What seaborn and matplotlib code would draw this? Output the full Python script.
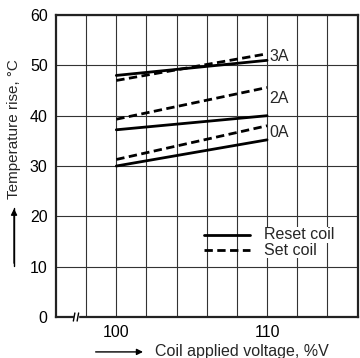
import pandas as pd
import matplotlib.pyplot as plt
import seaborn as sns

# coil temperature rise vs applied voltage
voltage = [100, 110]
currents = ["0A", "2A", "3A"]
reset_rise = {"0A": [30.0, 35.2], "2A": [37.2, 40.0], "3A": [48.0, 51.0]}
set_rise = {"0A": [31.3, 38.0], "2A": [39.3, 45.6], "3A": [47.0, 52.3]}
label_y = {"0A": 36.6, "2A": 43.4, "3A": 51.8}

rows = []
for cur in currents:
    for v, r, s in zip(voltage, reset_rise[cur], set_rise[cur]):
        rows.append({"voltage": v, "rise": r, "current": cur, "coil": "Reset coil"})
        rows.append({"voltage": v, "rise": s, "current": cur, "coil": "Set coil"})
df = pd.DataFrame(rows)

sns.set_theme(style="white")
plt.rcParams["font.family"] = ["Liberation Sans", "DejaVu Sans"]

fig = plt.figure(figsize=(3.6, 3.58), dpi=100)
ax = fig.add_axes([0.1556, 0.1145, 0.8375, 0.8435])

sns.lineplot(data=df, x="voltage", y="rise", hue="current", style="coil",
             units="current", estimator=None,
             palette=["black"] * 3, dashes={"Reset coil": "", "Set coil": (3, 1.6)},
             linewidth=2.0, legend=False, ax=ax, zorder=3)

ax.set_xlim(96, 116)
ax.set_ylim(0, 60)
ax.set_xticks(range(98, 116, 2), minor=True)
ax.set_xticks([100, 110])
ax.set_yticks(range(0, 70, 10))
ax.grid(True, which="both", color="#333333", linewidth=0.8)
ax.tick_params(length=0, labelsize=11.5, colors="black", pad=6)
for sp in ax.spines.values():
    sp.set_color("#222222")
    sp.set_linewidth(1.6)
ax.set_xlabel("")
ax.set_ylabel("")

for cur in currents:
    ax.text(110.15, label_y[cur], cur, ha="left", va="center", fontsize=11.5, zorder=4)

# manual legend
ax.plot([105.8, 108.9], [16.3, 16.3], color="black", lw=2.0, zorder=4)
ax.plot([105.8, 108.9], [13.3, 13.3], color="black", lw=2.0, dashes=(3, 1.6), zorder=4)
ax.text(109.8, 16.3, "Reset coil", ha="left", va="center", fontsize=11.5, zorder=4,
        bbox=dict(facecolor="white", edgecolor="none", pad=0.5))
ax.text(109.8, 13.3, "Set coil", ha="left", va="center", fontsize=11.5, zorder=4,
        bbox=dict(facecolor="white", edgecolor="none", pad=0.5))

# axis break mark
ax.fill_between([97.2, 97.45], -0.8, 0.8, color="white", zorder=5, clip_on=False)
ax.plot([97.15, 97.25], [-0.8, 0.8], color="black", lw=1.0, zorder=6, clip_on=False)
ax.plot([97.4, 97.5], [-0.8, 0.8], color="black", lw=1.0, zorder=6, clip_on=False)

# axis titles with arrows
fig.text(0.039, 0.64, "Temperature rise, °C", rotation=90, ha="center", va="center", fontsize=11)
fig.add_artist(plt.Line2D([0.039, 0.039], [0.257, 0.42], color="black", lw=1.0))
ax.annotate("", xy=(0.039, 0.425), xytext=(0.039, 0.257), xycoords="figure fraction",
            arrowprops=dict(arrowstyle="-|>", color="black", lw=1.0, mutation_scale=9))
fig.text(0.43, 0.017, "Coil applied voltage, %V", ha="left", va="center", fontsize=11.5)
ax.annotate("", xy=(0.405, 0.017), xytext=(0.258, 0.017), xycoords="figure fraction",
            arrowprops=dict(arrowstyle="-|>", color="black", lw=1.0, mutation_scale=9))

fig.savefig("out.png", dpi=100)
